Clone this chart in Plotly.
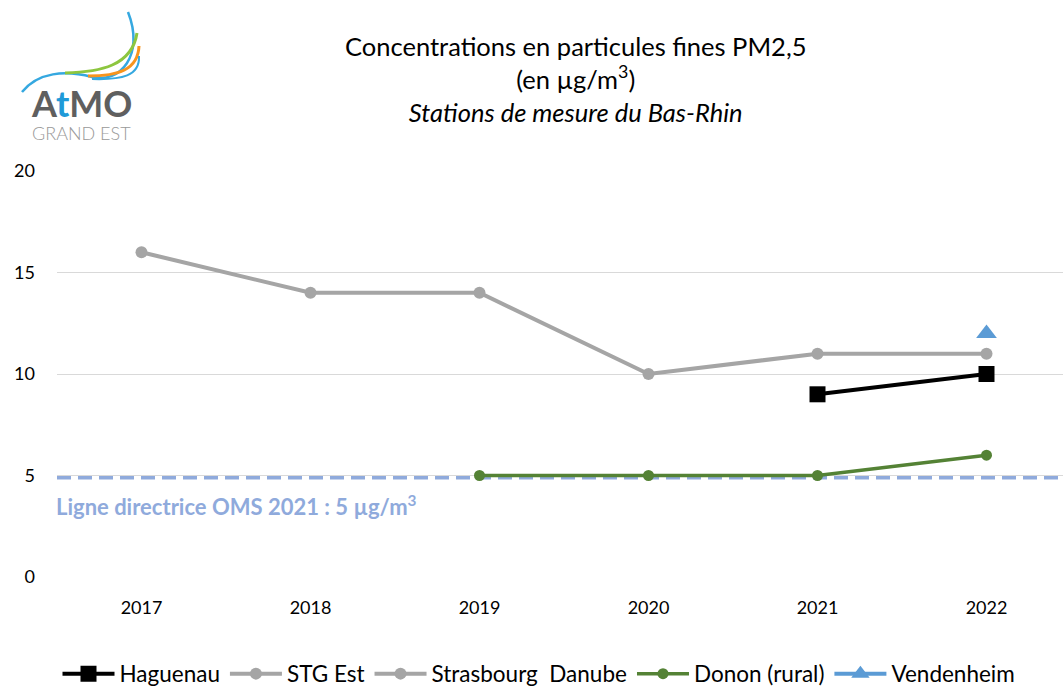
import plotly.graph_objects as go

years = ["2017", "2018", "2019", "2020", "2021", "2022"]
haguenau = [None, None, None, None, 9, 10]
stg_est = [16, 14, 14, 10, 11, 11]
strasbourg_danube = [None, None, None, None, None, None]
donon = [None, None, 5, 5, 5, 6]
vendenheim = [None, None, None, None, None, 12]
oms_line = 4.9
oms_label = "Ligne directrice OMS 2021 : 5 µg/m<sup>3</sup>"

W, H = 1063, 688
L, R, T, B = 57, 1063, 171, 577

def px(x):
    return (x - L) / (R - L)

def py(y):
    return (B - y) / (B - T)

FONT = "Lato, Carlito, 'Open Sans', sans-serif"

fig = go.Figure()
fig.add_trace(go.Scatter(x=years, y=haguenau, name="Haguenau", mode="lines+markers",
                         line=dict(color="#000000", width=4),
                         marker=dict(symbol="square", size=16, color="#000000")))
fig.add_trace(go.Scatter(x=years, y=stg_est, name="STG Est", mode="lines+markers",
                         line=dict(color="#a5a5a5", width=4),
                         marker=dict(symbol="circle", size=12, color="#a5a5a5")))
fig.add_trace(go.Scatter(x=years, y=strasbourg_danube, name="Strasbourg  Danube", mode="lines+markers",
                         line=dict(color="#a5a5a5", width=4),
                         marker=dict(symbol="circle", size=12, color="#a5a5a5")))
fig.add_trace(go.Scatter(x=years, y=donon, name="Donon (rural)", mode="lines+markers",
                         line=dict(color="#548235", width=3.5),
                         marker=dict(symbol="circle", size=11, color="#548235")))
fig.add_trace(go.Scatter(x=years, y=vendenheim, name="Vendenheim", mode="lines+markers",
                         line=dict(color="#5b9bd5", width=4),
                         marker=dict(symbol="triangle-up", size=18, color="#5b9bd5")))

fig.add_shape(type="line", xref="paper", yref="y", x0=0, x1=1, y0=oms_line, y1=oms_line,
              line=dict(color="#8faadc", width=4, dash="14px,7px"), layer="below")

fig.add_annotation(text=oms_label, xref="paper", yref="paper", x=px(54), y=py(505),
                   xanchor="left", yanchor="middle", showarrow=False,
                   font=dict(family=FONT, size=22, color="#8faadc", weight="bold"))

# Title
fig.add_annotation(text="Concentrations en particules fines PM2,5<br>(en µg/m<sup>3</sup>)<br><i>Stations de mesure du Bas-Rhin</i>",
                   xref="paper", yref="paper", x=px(575), y=py(79), xanchor="center", yanchor="middle",
                   showarrow=False, align="center",
                   font=dict(family=FONT, size=25.5, color="#000000"))

# Logo
fig.add_annotation(text="<b>A<span style='color:#1f9ad8'>t</span>MO</b>", xref="paper", yref="paper",
                   x=px(81), y=py(103), xanchor="center", yanchor="middle", showarrow=False,
                   font=dict(family=FONT, size=36, color="#5f5f5f"))
fig.add_annotation(text="GRAND EST", xref="paper", yref="paper",
                   x=px(81), y=py(133), xanchor="center", yanchor="middle", showarrow=False,
                   font=dict(family=FONT, size=18, color="#999999", weight=300))

def cpath(points, color, width):
    p0 = points[0]
    s = "M {} {}".format(px(p0[0]), py(p0[1]))
    for i in range(1, len(points), 3):
        a, b, c = points[i], points[i + 1], points[i + 2]
        s += " C {} {}, {} {}, {} {}".format(px(a[0]), py(a[1]), px(b[0]), py(b[1]), px(c[0]), py(c[1]))
    fig.add_shape(type="path", xref="paper", yref="paper", path=s, line=dict(color=color, width=width))

cpath([(22, 92), (38, 72), (65, 70), (92, 77), (120, 84), (145, 55), (128, 12)], "#35a8e0", 2.5)
cpath([(65, 73), (100, 72), (132, 66), (137, 33)], "#8dc63f", 3)
cpath([(88, 76), (118, 76), (138, 70), (139, 46)], "#f7941d", 3)
cpath([(92, 79), (122, 80), (140, 76), (139, 56)], "#35a8e0", 2)

fig.update_layout(
    width=W, height=H,
    margin=dict(l=L, r=W - R, t=T, b=H - B, pad=0, autoexpand=False),
    plot_bgcolor="#ffffff", paper_bgcolor="#ffffff",
    font=dict(family=FONT, size=18, color="#000000"),
    showlegend=True,
    legend=dict(orientation="h", x=px(539), y=py(674), xanchor="center", yanchor="middle",
                font=dict(family=FONT, size=22.5, color="#000000"), itemwidth=52,
                traceorder="normal"),
    xaxis=dict(type="category", range=[-0.5, -0.5 + (R - L) / 169.0], showgrid=False,
               showline=False, zeroline=False, ticks="", tickfont=dict(size=18),
               ticklabelstandoff=18, fixedrange=True),
    yaxis=dict(range=[0, 20], dtick=5, showgrid=True, gridcolor="#d9d9d9", gridwidth=1.3,
               zeroline=False, showline=False, ticks="", tickfont=dict(size=18),
               ticklabelstandoff=21),
)

fig.write_html("out.html", config={"displayModeBar": False},
               post_script="document.body.style.margin='0';document.body.style.overflow='hidden';")
